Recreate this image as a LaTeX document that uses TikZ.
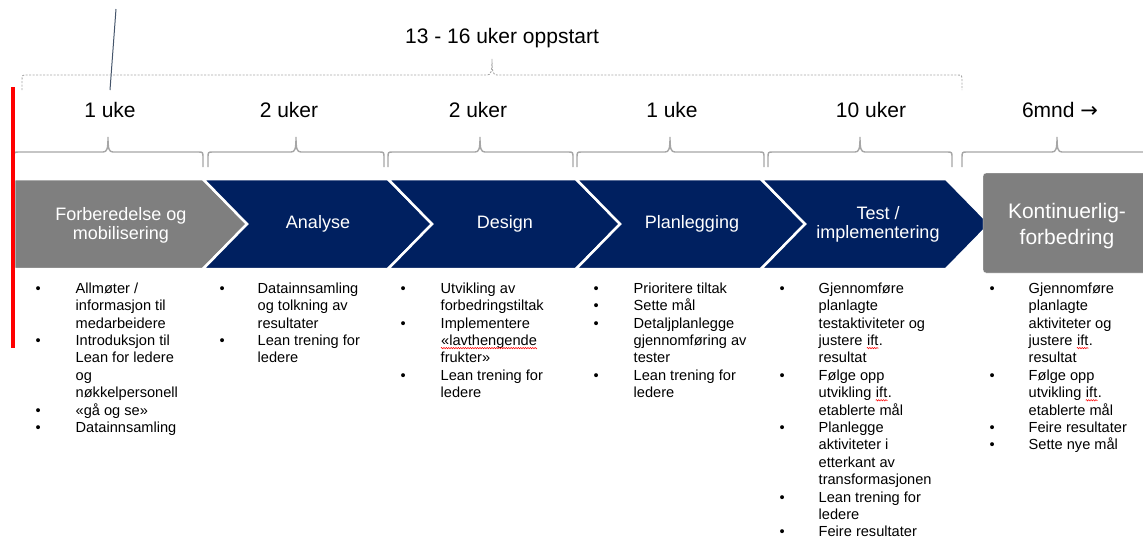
\documentclass[tikz,border=0pt]{standalone}
\usepackage{fontspec}
\setmainfont{Liberation Sans}
\newfontfamily\symbolfont{DejaVu Sans}
\usetikzlibrary{decorations.pathmorphing}

\definecolor{navy}{HTML}{002060}
\definecolor{phasegrey}{HTML}{7F7F7F}
\definecolor{bracegrey}{HTML}{A6A6A6}
\definecolor{slate}{HTML}{44546A}

\newcommand\spellerr[1]{\tikz[baseline=(w.base)]{\node[inner sep=0pt] (w) {#1};
  \draw[red, line width=0.5pt, decorate, decoration={zigzag, amplitude=0.7pt, segment length=2.4pt}]
    ([yshift=-2.5pt]w.base west) -- ([yshift=-2.5pt]w.base east);}}

\begin{document}
\begin{tikzpicture}[x=1pt, y=-1pt,
    chevron/.style = {
      fill = navy,
      draw = white,
      line width = 2.5pt,
      line join = miter
    },
    brace/.style = {draw = bracegrey, line width = 1.4pt},
    weeks/.style = {anchor = base, font = \fontsize{21}{25}\selectfont},
    phasetext/.style = {
      text = white,
      align = center,
      font = \fontsize{18}{19}\selectfont
    },
    tasks/.style = {
      anchor = north west,
      inner sep = 0pt,
      font = \fontsize{14.6}{17.4}\selectfont
    }
  ]
  \useasboundingbox (0,0) rectangle (1143,539);

  \draw[chevron, fill=phasegrey] (14,179) -- (203,179) -- (247,224) -- (203,269) -- (14,269) -- cycle;
  \foreach \l/\r in {203/388, 388/576, 576/761, 761/946}
    \draw[chevron] (\l,179) -- (\r,179) -- (\r+44,224) -- (\r,269) -- (\l,269) -- (\l+44,224) -- cycle;
  \draw[fill=phasegrey, draw=white, rounded corners=3pt] (983,173) rectangle (1170,273);

  \draw[draw=bracegrey, line width=0.9pt, dash pattern=on 2pt off 1.5pt] (22,90) -- (22,81) .. controls (22,75) .. (27,75) -- (487,75) .. controls (491,75) and (492,72) .. (492,59) .. controls (492,72) and (493,75) .. (497,75) -- (957,75) .. controls (962,75) .. (962,81) -- (962,90);
  \foreach \l/\m/\r in {14/108/203, 208/296/384, 388/480/573, 577/670/764, 768/860/952, 962/1057/1152}
    \draw[brace] (\l,167) -- (\l,158) .. controls (\l,152) .. (\l+5,152) -- (\m-5,152) .. controls (\m-1,152) and (\m,149) .. (\m,137) .. controls (\m,149) and (\m+1,152) .. (\m+5,152) -- (\r-5,152) .. controls (\r,152) .. (\r,158) -- (\r,167);

  \draw (502,43)  node[weeks] (oppstart) {13 - 16 uker oppstart};
  \draw (110,117) node[weeks] (uke prep) {1 uke};
  \draw (289,117) node[weeks] (uke analyse) {2 uker};
  \draw (478,117) node[weeks] (uke design) {2 uker};
  \draw (672,117) node[weeks] (uke plan) {1 uke};
  \draw (871,117) node[weeks] (uke test) {10 uker};
  \draw (1060,117) node[weeks] (mnd) {6mnd {\symbolfont →}};

  \draw (121,225)  node[phasetext] (prep) {Forberedelse og\\mobilisering};
  \draw (318,224)  node[phasetext] (analyse) {Analyse};
  \draw (505,224)  node[phasetext] (design) {Design};
  \draw (692,224)  node[phasetext] (plan) {Planlegging};
  \draw (878,224)  node[phasetext] (test) {Test /\\implementering};
  \draw (1067,226) node[phasetext, font=\fontsize{21}{26}\selectfont] (forbedring) {Kontinuerlig-\\forbedring};

  \draw (35.5,281) node[tasks] (prep tasks) {\begin{tabular}{@{}p{40pt}@{}l@{}}
    • & Allmøter / \\ & informasjon til \\ & medarbeidere \\
    • & Introduksjon til \\ & Lean for ledere \\ & og \\ & nøkkelpersonell \\
    • & «gå og se» \\
    • & Datainnsamling
  \end{tabular}};
  \draw (219.5,281) node[tasks] (analyse tasks) {\begin{tabular}{@{}p{38pt}@{}l@{}}
    • & Datainnsamling \\ & og tolkning av \\ & resultater \\
    • & Lean trening for \\ & ledere
  \end{tabular}};
  \draw (400.5,281) node[tasks] (design tasks) {\begin{tabular}{@{}p{40pt}@{}l@{}}
    • & Utvikling av \\ & forbedringstiltak \\
    • & Implementere \\ & \spellerr{«lavthengende} \\ & frukter» \\
    • & Lean trening for \\ & ledere
  \end{tabular}};
  \draw (593.5,281) node[tasks] (plan tasks) {\begin{tabular}{@{}p{40pt}@{}l@{}}
    • & Prioritere tiltak \\
    • & Sette mål \\
    • & Detaljplanlegge \\ & gjennomføring av \\ & tester \\
    • & Lean trening for \\ & ledere
  \end{tabular}};
  \draw (779.5,281) node[tasks] (test tasks) {\begin{tabular}{@{}p{39pt}@{}l@{}}
    • & Gjennomføre \\ & planlagte \\ & testaktiviteter og \\ & justere \spellerr{ift}. \\ & resultat \\
    • & Følge opp \\ & utvikling \spellerr{ift}. \\ & etablerte mål \\
    • & Planlegge \\ & aktiviteter i \\ & etterkant av \\ & transformasjonen \\
    • & Lean trening for \\ & ledere \\
    • & Feire resultater
  \end{tabular}};
  \draw (989.5,281) node[tasks] (forbedring tasks) {\begin{tabular}{@{}p{39pt}@{}l@{}}
    • & Gjennomføre \\ & planlagte \\ & aktiviteter og \\ & justere \spellerr{ift}. \\ & resultat \\
    • & Følge opp \\ & utvikling \spellerr{ift}. \\ & etablerte mål \\
    • & Feire resultater \\
    • & Sette nye mål
  \end{tabular}};

  \coordinate (pin top) at (116,9);
  \coordinate (pin foot) at (110,90);
  \draw[slate, line width=1pt] (pin top) -- (pin foot);
  \draw[red, line width=4pt] (13,87) -- (13,348);
\end{tikzpicture}
\end{document}
